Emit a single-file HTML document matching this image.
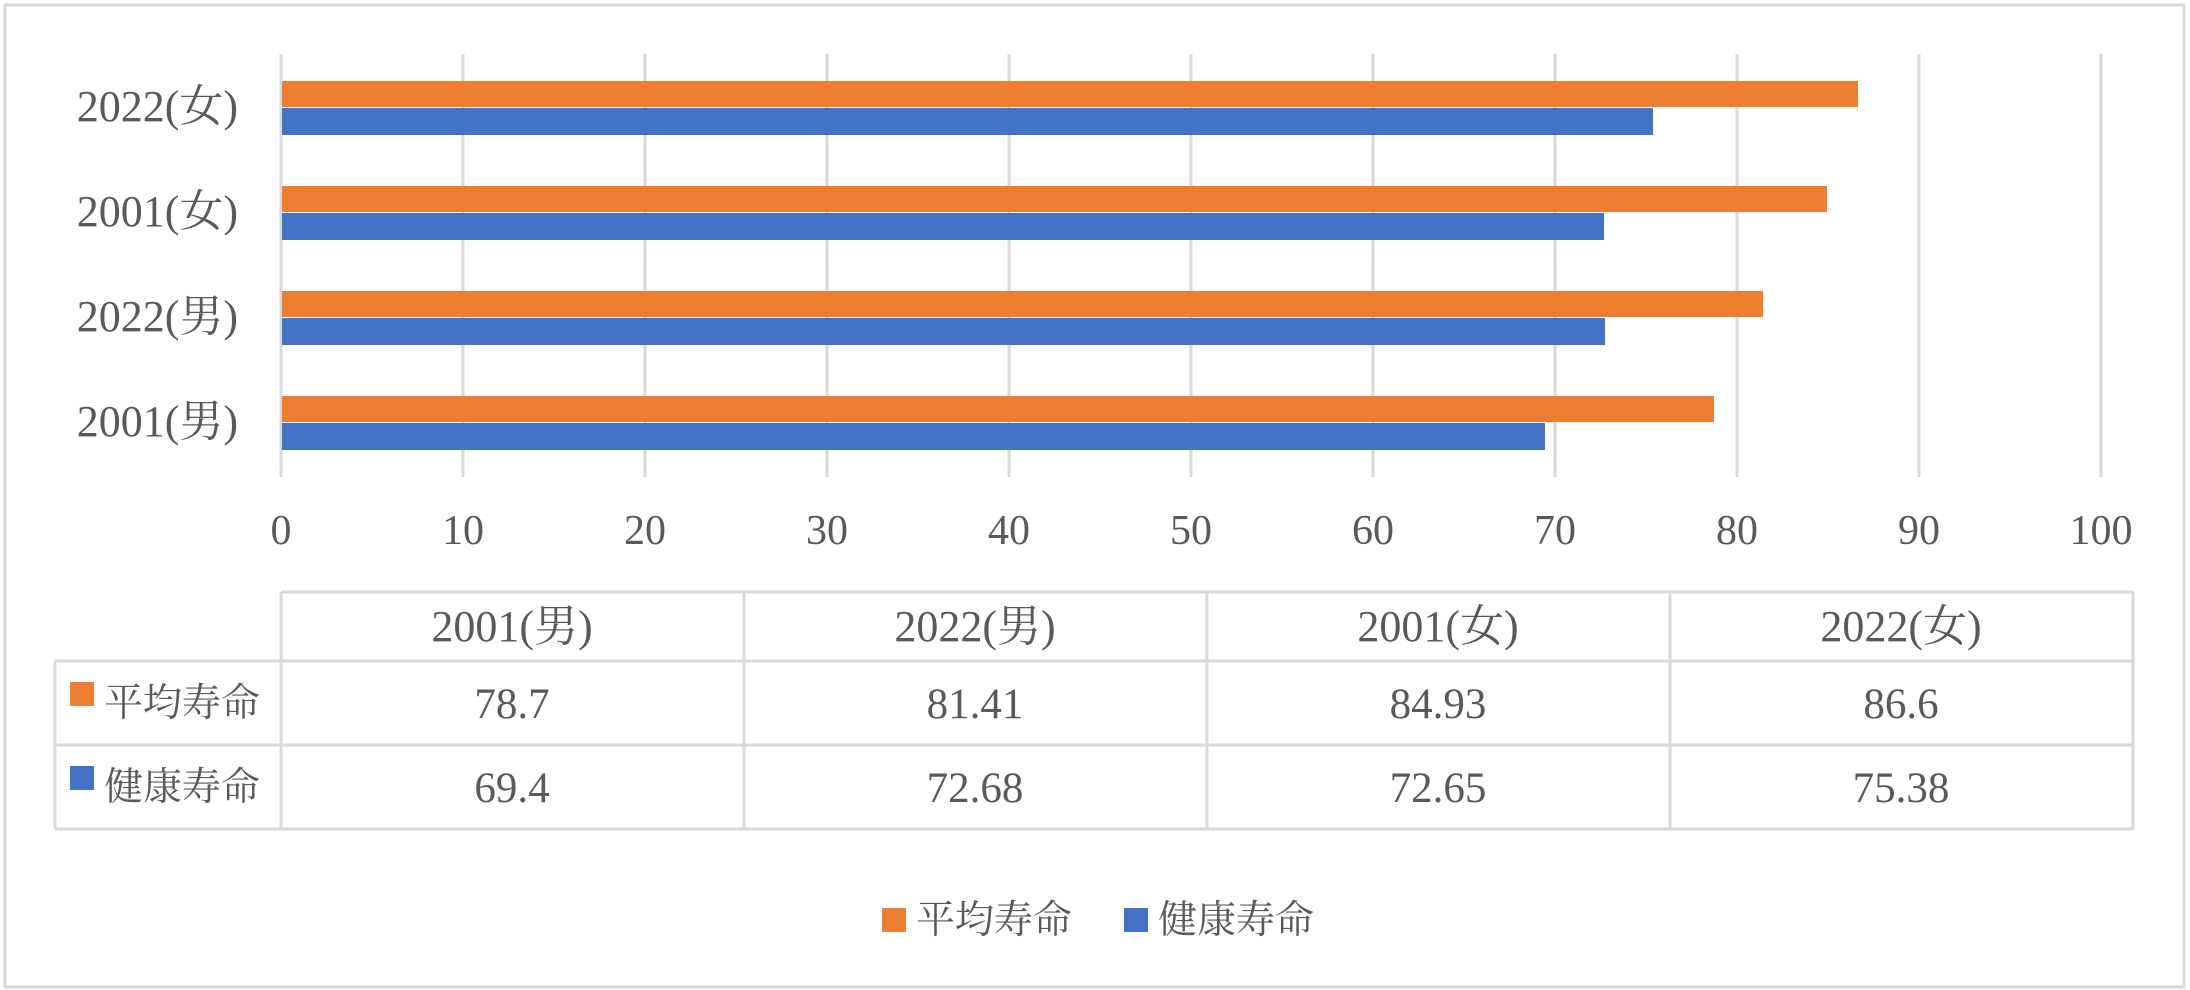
<!DOCTYPE html>
<html><head><meta charset="utf-8"><style>
body{margin:0;background:#fff;}
svg{display:block;}
text{font-family:"Liberation Serif","Noto Serif CJK JP",serif;fill:#595959;}
</style></head><body>
<svg width="2190" height="990" viewBox="0 0 2190 990" xmlns="http://www.w3.org/2000/svg">
<rect x="5" y="5" width="2179" height="982" fill="#fff" stroke="#d9d9d9" stroke-width="3"/>
<g stroke="#d9d9d9" stroke-width="3">
<line x1="281" y1="54" x2="281" y2="477"/><line x1="463" y1="54" x2="463" y2="477"/>
<line x1="645" y1="54" x2="645" y2="477"/><line x1="827" y1="54" x2="827" y2="477"/>
<line x1="1009" y1="54" x2="1009" y2="477"/><line x1="1191" y1="54" x2="1191" y2="477"/>
<line x1="1373" y1="54" x2="1373" y2="477"/><line x1="1555" y1="54" x2="1555" y2="477"/>
<line x1="1737" y1="54" x2="1737" y2="477"/><line x1="1919" y1="54" x2="1919" y2="477"/>
<line x1="2101" y1="54" x2="2101" y2="477"/>
</g>
<rect x="282" y="81" width="1576" height="26" fill="#ED7D31"/>
<rect x="282" y="108" width="1371" height="27" fill="#4472C4"/>
<rect x="282" y="186" width="1545" height="26" fill="#ED7D31"/>
<rect x="282" y="213" width="1322" height="27" fill="#4472C4"/>
<rect x="282" y="291" width="1481" height="26" fill="#ED7D31"/>
<rect x="282" y="318" width="1323" height="27" fill="#4472C4"/>
<rect x="282" y="396" width="1432" height="26" fill="#ED7D31"/>
<rect x="282" y="423" width="1263" height="27" fill="#4472C4"/>
<g font-size="44" text-anchor="end">
<text x="238" y="121">2022(女)</text>
<text x="238" y="226">2001(女)</text>
<text x="238" y="331">2022(男)</text>
<text x="238" y="436">2001(男)</text>
</g>
<g font-size="42" text-anchor="middle">
<text x="281" y="544">0</text><text x="463" y="544">10</text><text x="645" y="544">20</text>
<text x="827" y="544">30</text><text x="1009" y="544">40</text><text x="1191" y="544">50</text>
<text x="1373" y="544">60</text><text x="1555" y="544">70</text><text x="1737" y="544">80</text>
<text x="1919" y="544">90</text><text x="2101" y="544">100</text>
</g>
<g stroke="#d9d9d9" stroke-width="3" fill="none">
<line x1="281" y1="592" x2="2133" y2="592"/>
<line x1="55" y1="661" x2="2133" y2="661"/>
<line x1="55" y1="745" x2="2133" y2="745"/>
<line x1="55" y1="829" x2="2133" y2="829"/>
<line x1="55" y1="661" x2="55" y2="829"/>
<line x1="281" y1="592" x2="281" y2="829"/>
<line x1="744" y1="592" x2="744" y2="829"/>
<line x1="1207" y1="592" x2="1207" y2="829"/>
<line x1="1670" y1="592" x2="1670" y2="829"/>
<line x1="2133" y1="592" x2="2133" y2="829"/>
</g>
<g font-size="44" text-anchor="middle">
<text x="512" y="641">2001(男)</text><text x="975" y="641">2022(男)</text>
<text x="1438" y="641">2001(女)</text><text x="1901" y="641">2022(女)</text>
</g>
<g font-size="43" text-anchor="middle">
<text x="512" y="718">78.7</text><text x="975" y="718">81.41</text>
<text x="1438" y="718">84.93</text><text x="1901" y="718">86.6</text>
<text x="512" y="802">69.4</text><text x="975" y="802">72.68</text>
<text x="1438" y="802">72.65</text><text x="1901" y="802">75.38</text>
</g>
<rect x="70" y="682" width="24" height="24" fill="#ED7D31"/>
<text x="104" y="716" font-size="39">平均寿命</text>
<rect x="70" y="766" width="24" height="24" fill="#4472C4"/>
<text x="104" y="800" font-size="39">健康寿命</text>
<rect x="882" y="908" width="24" height="24" fill="#ED7D31"/>
<text x="916" y="933" font-size="39">平均寿命</text>
<rect x="1124" y="908" width="24" height="24" fill="#4472C4"/>
<text x="1158" y="933" font-size="39">健康寿命</text>
</svg>
</body></html>
